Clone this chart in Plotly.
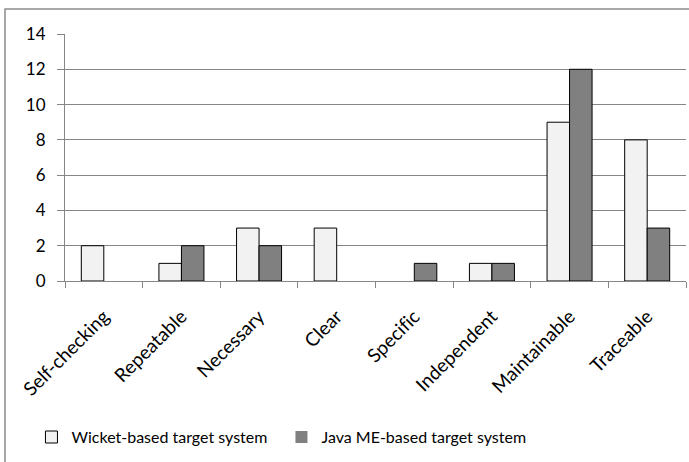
import plotly.graph_objects as go

categories = ["Self-checking", "Repeatable", "Necessary", "Clear", "Specific",
              "Independent", "Maintainable", "Traceable"]
wicket_values = [2, 1, 3, 3, 0, 1, 9, 8]
javame_values = [0, 2, 2, 0, 1, 1, 12, 3]
series_names = ["Wicket-based target system", "Java ME-based target system"]
y_ticks = [0, 2, 4, 6, 8, 10, 12, 14]

FONT = "Lato, 'Open Sans', sans-serif"
GRID = "#868686"


def outline_widths(values):
    # an empty bar gets no outline so nothing is drawn over the axis
    return [1 if v else 0 for v in values]


def no_ligature(label):
    # keep "fi" as two separate glyphs so the dot of the i stays visible
    return label.replace("fi", "f\u200ci")


fig = go.Figure()
fig.add_trace(go.Bar(
    x=categories, y=wicket_values, name=series_names[0],
    marker=dict(color="#f2f2f2", line=dict(color="#000000", width=outline_widths(wicket_values))),
))
fig.add_trace(go.Bar(
    x=categories, y=javame_values, name=series_names[1],
    marker=dict(color="#808080", line=dict(color="#000000", width=outline_widths(javame_values))),
))

fig.update_layout(
    width=689, height=462,
    margin=dict(l=65, r=3, t=34, b=181),
    paper_bgcolor="white", plot_bgcolor="white",
    font=dict(family=FONT, size=16, color="#000000"),
    barmode="group", bargap=0.42, bargroupgap=0,
    showlegend=True,
    legend=dict(orientation="h", x=-0.054, xanchor="left", y=-0.632, yanchor="middle",
                font=dict(size=16), itemwidth=30, traceorder="normal",
                entrywidth=205, entrywidthmode="pixels"),
    xaxis=dict(
        type="category", tickangle=-45, tickson="boundaries",
        tickvals=categories, ticktext=[no_ligature(c) for c in categories],
        ticks="outside", ticklen=6, tickcolor=GRID,
        showline=True, linecolor=GRID, linewidth=1, showgrid=False,
        tickfont=dict(size=19), ticklabelstandoff=16,
    ),
    yaxis=dict(
        range=[0, 14], tickvals=y_ticks, ticks="outside", ticklen=7, tickcolor=GRID,
        showline=True, linecolor=GRID, linewidth=1,
        showgrid=True, gridcolor=GRID, gridwidth=1, zeroline=False,
        tickfont=dict(size=17), ticklabelstandoff=8,
    ),
    shapes=[dict(type="rect", xref="paper", yref="paper",
                 x0=-0.0966, x1=1.03, y0=-1.0, y1=1.101,
                 line=dict(color="#8c8c8c", width=1.5), layer="below")],
)

fig.write_html("out.html")
